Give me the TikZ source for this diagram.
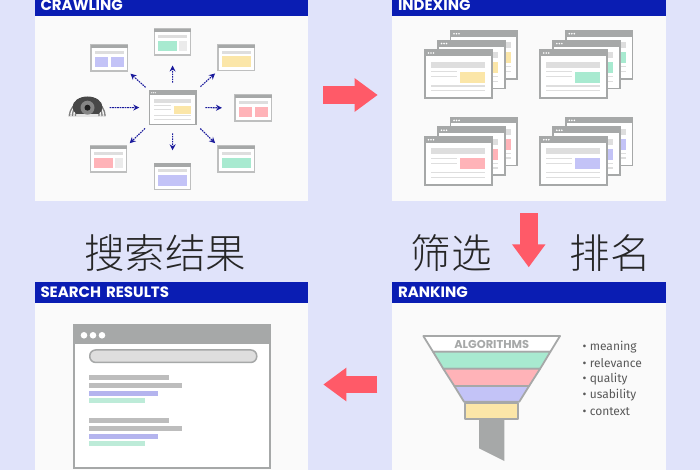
\documentclass[tikz,border=0pt]{standalone}
\usepackage{fontspec}
\setmainfont{Poppins}
\newfontfamily\cjk[UprightFont={* Light}]{Noto Sans CJK SC}
\newfontfamily\listfont{Fira Sans}
\usetikzlibrary{arrows.meta}
\definecolor{bluebar}{HTML}{0A1DB3}
\definecolor{pagegray}{HTML}{A6A8A8}
\definecolor{pageline}{HTML}{BEBFBF}
\definecolor{barlight}{HTML}{DEDEDE}
\definecolor{barmid}{HTML}{BDBDBD}
\definecolor{bgblue}{HTML}{E0E3FA}
\definecolor{panelgray}{HTML}{FAFAFA}
\definecolor{softyellow}{HTML}{FBE6A8}
\definecolor{softgreen}{HTML}{A8EAD0}
\definecolor{softpink}{HTML}{FFB3B8}
\definecolor{softlav}{HTML}{C3C3F7}
\definecolor{rowlav}{HTML}{B4B4EE}
\definecolor{rowgreen}{HTML}{BDEBD8}
\definecolor{redarrow}{HTML}{FF5A68}
\definecolor{navyarrow}{HTML}{1A1A9C}
\tikzset{panel/.style={fill=panelgray,anchor=north west,inner sep=0pt,outer sep=0pt,minimum width=273.5pt},
	headbar/.style={fill=bluebar,text=white,font=\bfseries\fontsize{15}{17}\selectfont,anchor=north west,inner sep=0pt,outer sep=0pt,
		minimum width=273.5pt,minimum height=21pt,text width=261.5pt,align=left,inner xsep=6pt},
	smallpage/.style={draw=pageline,line width=1.3pt,fill=white,anchor=north west,inner sep=0pt,outer sep=0pt,
		minimum width=36.5pt,minimum height=26pt},
	docpage/.style={draw=pagegray,fill=white,anchor=north west,inner sep=0pt,outer sep=0pt},
	crawl/.style={navyarrow,line width=1.1pt,dash pattern=on 1.6pt off .9pt,-{Stealth[length=6pt,width=6pt]}},
	blockarrow/.style={redarrow,line width=17.6pt,-{Triangle[length=23pt,width=32pt]}},
	bigtext/.style={font=\cjk\fontsize{40.5}{43}\selectfont,text=black!85,inner sep=0pt},
	listitem/.style={font=\listfont\fontsize{12}{14}\selectfont,text=black!65,anchor=west,inner sep=0pt},
	funnel/.style={draw=pagegray,line width=1.8pt,line join=round}}
% small page of the crawling panel, blocks are added with \pageblock
\newcommand{\crawlpage}[3]{%
	\node[smallpage] (#1) at (#2,#3) {};
	\fill[pagegray] (#1.north west) rectangle ([shift={(36.5,3.3)}]#1.north west);
	\fill[barlight] ([shift={(4,6)}]#1.north west) rectangle ([shift={(32.5,9)}]#1.north west);}
\newcommand{\pageblock}[4]{%
	\fill[#4] ([shift={(#2,11.7)}]#1.north west) rectangle ([shift={(#3,22.5)}]#1.north west);}
% big page: name, x, y, scale, colour
\newcommand{\bigpage}[5]{%
	\begin{scope}[shift={(#2,#3)},scale=#4]
	\node[docpage,draw=none,minimum width=#4*66.7pt,minimum height=#4*48pt] (#1) at (0,0) {};
	\fill[pagegray] (0,0) rectangle (66.7,6);
	\foreach \dotx in {3.5,6,8.5} \fill[white] (\dotx,3) circle (.9);
	\fill[barlight] (6,11.7) rectangle (60,17.7);
	\fill[barlight] (6,21) rectangle (31.7,22.4);
	\fill[barlight] (6,26) rectangle (31.7,27.4);
	\fill[#5] (35,21.7) rectangle (60,32.7);
	\fill[barlight] (6,35.4) rectangle (60,36.8);
	\fill[barlight] (6,40) rectangle (60,41.4);
	\draw[pagegray,line width=#4*1.7pt] (#1.north west) rectangle (#1.south east);
	\end{scope}}
\begin{document}
\begin{tikzpicture}[x=1pt,y=-1pt]
\clip (0,0) rectangle (700,470);
\fill[bgblue] (0,0) rectangle (700,470);
% panels
\node[panel,minimum height=206pt] (crawling) at (34.5,-5) {};
\node[panel,minimum height=206pt] (indexing) at (392,-5) {};
\node[panel,minimum height=188pt] (results) at (34.5,282) {};
\node[panel,minimum height=188pt] (ranking) at (392,282) {};
\node[headbar] (crawlhead) at (34.5,-5) {CRAWLING};
\node[headbar] (indexhead) at (392,-5) {INDEXING};
\node[headbar] (resulthead) at (34.5,282) {SEARCH RESULTS};
\node[headbar] (rankhead) at (392,282) {RANKING};
% crawling
\crawlpage{pagetl}{91}{45}
\pageblock{pagetl}{4}{16.7}{softlav}
\pageblock{pagetl}{20}{32.5}{softlav}
\crawlpage{pagetop}{154.3}{29}
\pageblock{pagetop}{3.5}{22.7}{softgreen}
\pageblock{pagetop}{25}{33}{barlight!60}
\crawlpage{pagetr}{218}{44.8}
\pageblock{pagetr}{3.5}{33}{softyellow}
\crawlpage{pageright}{235}{95}
\pageblock{pageright}{4}{16.7}{softpink}
\pageblock{pageright}{20}{32.5}{softpink}
\crawlpage{pagebr}{218}{146}
\pageblock{pagebr}{3.5}{33}{softgreen}
\crawlpage{pagebottom}{154.3}{163.3}
\pageblock{pagebottom}{3.5}{33}{softlav}
\crawlpage{pagebl}{90.3}{146}
\pageblock{pagebl}{3.5}{22.7}{softpink}
\pageblock{pagebl}{25}{33}{barlight!60}
\bigpage{centre}{149.3}{90.7}{.7}{softyellow}
% spider
\fill[black!10] (68,114.5) rectangle (106,117);
\foreach \legx/\legtop in {69.5/75,72.5/77,75.5/79,105/100,102/98,99/96}
	\draw[black!50,line width=1.3pt] (\legx,116) .. controls (\legx,108) and (\legtop,106) .. (\legtop,103);
\begin{scope}
\clip (68,95) rectangle (106,113.5);
\fill[black!72] (87.5,107) ellipse [x radius=15,y radius=10.5];
\end{scope}
\fill[black!48] (87.5,107.7) circle (7);
\node[circle,fill=black!88,inner sep=0pt,minimum size=6pt] (spider) at (87.5,107.7) {};
% crawling connectors
\draw[crawl,shorten <=19pt,shorten >=10pt] (spider.east) -- (centre.west);
\draw[crawl,shorten <=8pt,shorten >=10.5pt] (centre.north) -- (pagetop.south);
\draw[crawl,shorten <=9pt,shorten >=13pt] (centre.south) -- (pagebottom.north);
\draw[crawl,shorten <=9.5pt,shorten >=13pt] (centre.east) -- (pageright.west);
\draw[crawl,shorten <=5pt,shorten >=4pt] (centre.north west) -- (pagetl.south east);
\draw[crawl,shorten <=6pt,shorten >=4pt] (centre.north east) -- (pagetr.south west);
\draw[crawl,shorten <=6pt,shorten >=4pt] (centre.south west) -- (pagebl.north east);
\draw[crawl,shorten <=6pt,shorten >=4pt] (centre.south east) -- (pagebr.north west);
% indexing
\foreach \stack/\sx/\sy/\col in {a/425/50/softyellow,b/540.3/50/softgreen,c/425/136.7/softpink,d/540.3/136.7/softlav}{
	\bigpage{\stack back}{\sx+25.5}{\sy-19.3}{1}{\col}
	\bigpage{\stack mid}{\sx+13}{\sy-9.4}{1}{\col}
	\bigpage{\stack front}{\sx}{\sy}{1}{\col}
}
% ranking
\fill[pagegray] (479,420) -- (504.3,420) -- (504.3,461) -- (479,448.3) -- cycle;
\draw[funnel,fill=white] (423.3,336) -- (560,336) -- (550.4,351.7) -- (433,351.7) -- cycle;
\draw[funnel,fill=softgreen] (433,351.7) -- (550.4,351.7) -- (540.1,368.8) -- (443.3,368.8) -- cycle;
\draw[funnel,fill=softpink] (443.3,368.8) -- (540.1,368.8) -- (529.1,386) -- (454.3,386) -- cycle;
\draw[funnel,fill=softlav] (454.3,386) -- (529.1,386) -- (519.3,401.7) -- (464,401.7) -- cycle;
\draw[funnel,fill=softyellow] (465,402.7) rectangle (518.3,419.3);
\node[font=\bfseries\fontsize{11.4}{13}\selectfont,text=pagegray,inner sep=0pt] (algo) at (491.7,344.3) {ALGORITHMS};
\foreach \i/\word/\wordy in {1/meaning/346.7,2/relevance/362.7,3/quality/379,4/usability/395.3,5/context/411.3}
	\node[listitem] (item\i) at (582.5,\wordy) {• \word};
% search results
\node[draw=pagegray,line width=2.4pt,fill=white,anchor=north west,inner sep=0pt,outer sep=0pt,minimum width=196pt,minimum height=142.5pt] (browser) at (73.8,325.5) {};
\fill[pagegray] (browser.north west) rectangle ([shift={(196,18)}]browser.north west);
\foreach \dotx in {84,93,102} \fill[white] (\dotx,335.3) circle (3.3);
\node[draw=pagegray,line width=1.5pt,fill=barlight,rounded corners=6pt,anchor=north west,inner sep=0pt,minimum width=167pt,minimum height=12.5pt] (searchbar) at (89,349.2) {};
\foreach \rowy in {374.8,417.8}{
	\fill[barmid] (89,\rowy) rectangle (169,\rowy+5);
	\fill[barmid] (89,\rowy+8) rectangle (182.3,\rowy+13);
	\fill[rowlav] (89,\rowy+15.8) rectangle (158.3,\rowy+20.8);
	\fill[rowgreen] (89,\rowy+23.5) rectangle (145,\rowy+28.5);
}
% chinese titles
\node[bigtext] (sousuo) at (165,253) {搜索结果};
\node[bigtext] (shaixuan) at (451,253) {筛选};
\node[bigtext] (paiming) at (610,253) {排名};
% block arrows
\draw[blockarrow,shorten <=15.3pt,shorten >=14.3pt] ([yshift=3pt]crawling.east) -- ([yshift=3pt]indexing.west);
\draw[blockarrow,shorten <=12.3pt,shorten >=14.7pt] (indexing.south) -- (rankhead.north);
\draw[blockarrow,shorten <=14.7pt,shorten >=15.3pt] ([yshift=-8.5pt]ranking.west) -- ([yshift=-8.5pt]results.east);
\end{tikzpicture}
\end{document}
